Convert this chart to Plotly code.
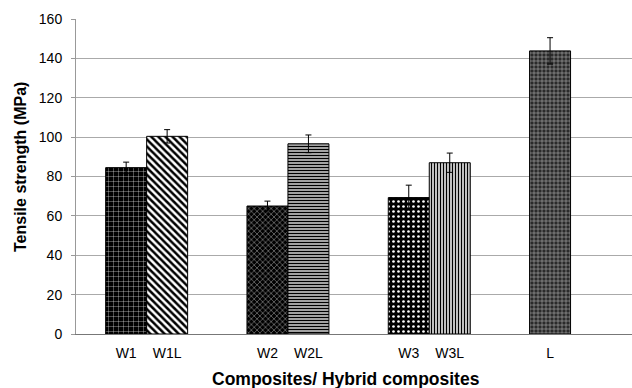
import plotly.graph_objects as go

# Data
labels_a = ["W1", "W2", "W3", "L"]
values_a = [84.5, 65.0, 69.3, 143.8]
errors_a = [2.8, 2.5, 6.3, 6.7]

labels_b = ["W1L", "W2L", "W3L"]
values_b = [100.4, 96.6, 87.0]
errors_b = [3.4, 4.5, 4.9]

y_ticks = [0, 20, 40, 60, 80, 100, 120, 140, 160]

W = 0.29
xa = list(range(len(labels_a)))
xb = list(range(len(labels_b)))

fig = go.Figure()
fig.add_trace(go.Bar(
    x=xa, y=values_a, width=W, offset=-W,
    marker=dict(
        color="black",
        line=dict(color="black", width=1),
        pattern=dict(
            shape=["+", "x", ".", "+"],
            bgcolor=["black", "black", "black", "#2a2a2a"],
            fgcolor=["white", "#8a8a8a", "white", "#cfcfcf"],
            size=[5, 4, 5, 4],
            solidity=[0.12, 0.3, 0.22, 0.22],
            fillmode="replace",
        ),
    ),
    error_y=dict(type="data", array=errors_a, color="black", thickness=1, width=3),
    showlegend=False,
))
fig.add_trace(go.Bar(
    x=xb, y=values_b, width=W, offset=0,
    marker=dict(
        color="white",
        line=dict(color="black", width=1),
        pattern=dict(
            shape=["\\", "-", "|"],
            bgcolor=["white", "#d8d8d8", "white"],
            fgcolor=["black", "black", "black"],
            size=[5, 3, 3],
            solidity=[0.5, 0.5, 0.5],
            fillmode="replace",
        ),
    ),
    error_y=dict(type="data", array=errors_b, color="black", thickness=1, width=3),
    showlegend=False,
))

tickvals = [i - W / 2 for i in xa] + [i + W / 2 for i in xb]
ticktext = labels_a + labels_b

L, T, B = 76, 19, 54
pw = 632 - L
ph = 388 - T - B
fig.update_layout(
    width=632, height=388,
    margin=dict(l=L, r=0, t=T, b=B, pad=0),
    paper_bgcolor="white", plot_bgcolor="white",
    font=dict(family="Liberation Sans, Arial, sans-serif", color="black"),
    xaxis=dict(
        range=[-0.5, -0.5 + pw / 141.3],
        tickvals=tickvals, ticktext=ticktext,
        tickfont=dict(size=14),
        ticks="", showgrid=False, zeroline=False,
        showline=True, linecolor="#777", linewidth=1,
        ticklabelstandoff=6,
    ),
    yaxis=dict(
        range=[0, 160], tickvals=y_ticks,
        tickfont=dict(size=14),
        showgrid=True, gridcolor="#aaa", gridwidth=1,
        zeroline=False, showline=True, linecolor="#999", linewidth=1,
        ticks="outside", ticklen=4, tickcolor="#999",
        ticklabelstandoff=6,
    ),
    annotations=[
        dict(text="<b>Tensile strength (MPa)</b>", xref="paper", yref="paper",
             x=(20 - L) / pw, y=(334 - 167) / ph, textangle=-90, showarrow=False,
             font=dict(size=16), xanchor="center", yanchor="middle"),
        dict(text="<b>Composites/ Hybrid composites</b>", xref="paper", yref="paper",
             x=(346 - L) / pw, y=(334 - 379) / ph, showarrow=False,
             font=dict(size=17.5), xanchor="center", yanchor="middle"),
    ],
)

fig.write_html("out.html")
